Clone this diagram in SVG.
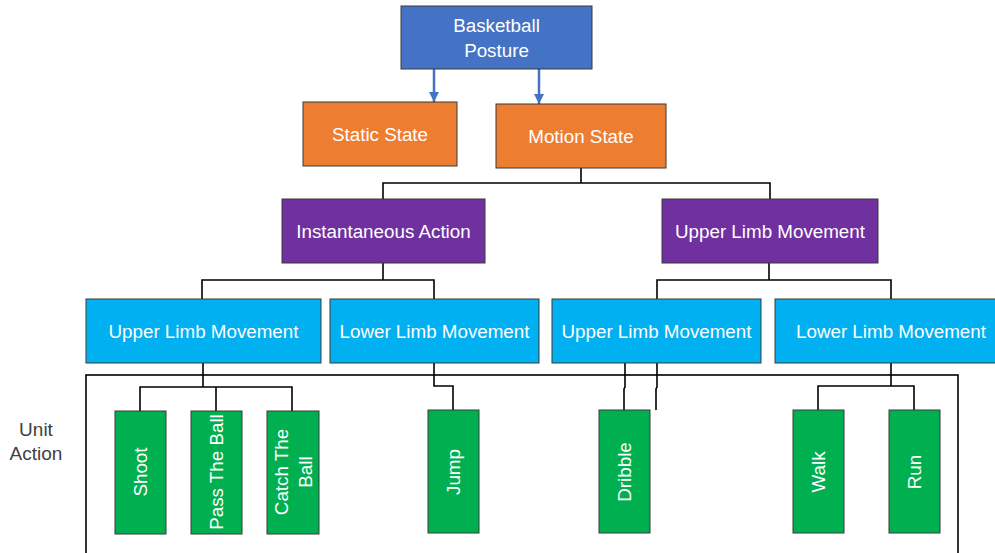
<svg xmlns="http://www.w3.org/2000/svg" width="995" height="553" viewBox="0 0 995 553">
<style>
  .box { stroke: #3a3a3a; stroke-width: 1; }
  .blue { fill: #4472C4; }
  .orange { fill: #ED7D31; }
  .purple { fill: #7030A0; }
  .cyan { fill: #00B0F0; }
  .green { fill: #00B050; }
  .lbl { fill: #ffffff; font-family: "Liberation Sans", Arial, sans-serif; font-size: 18.8px; text-anchor: middle; dominant-baseline: central; }
  .conn { fill: none; stroke: #000000; stroke-width: 1.6; }
  .arrow { fill: none; stroke: #4472C4; stroke-width: 2.5; }
  .side { fill: #404040; font-family: "Liberation Sans", Arial, sans-serif; font-size: 19px; text-anchor: middle; }
</style>
<defs>
  <marker id="ah" viewBox="0 0 10 10" refX="10" refY="5" markerWidth="4" markerHeight="4" orient="auto" markerUnits="strokeWidth">
    <path d="M0,0 L10,5 L0,10 z" fill="#4472C4"/>
  </marker>
</defs>
<rect width="995" height="553" fill="#ffffff"/>

<g id="connectors">
  <path class="arrow" d="M434,69 V102" marker-end="url(#ah)"/>
  <path class="arrow" d="M539,69 V104" marker-end="url(#ah)"/>
  <path class="conn" d="M581,168 V183 M383,199 V183 H770 V199"/>
  <path class="conn" d="M383,263 V280 M202,299 V280 H434 V299"/>
  <path class="conn" d="M769,263 V280 M657,299 V280 H891 V299"/>
  <path class="conn" d="M203,363 V387 M140,411 V387 H292 V411 M216,387 V411"/>
  <path class="conn" d="M434,363 V386 H453 V410"/>
  <path class="conn" d="M625,363 V387 L624,389 V410"/>
  <path class="conn" d="M657,363 V387 L656,389 V410"/>
  <path class="conn" d="M891,363 V386 M818,410 V386 H914 V410"/>
</g>

<g id="unit-frame">
  <rect x="86" y="375" width="872" height="190" fill="none" stroke="#000" stroke-width="1.6"/>
</g>
<g id="unit-label">
  <text class="side" x="36" y="436">Unit</text>
  <text class="side" x="36" y="460">Action</text>
</g>

<g id="basketball-posture">
  <rect class="box blue" x="401" y="6" width="191" height="63"/>
  <text class="lbl" x="496.5" y="25">Basketball</text>
  <text class="lbl" x="496.5" y="50">Posture</text>
</g>
<g id="static-state">
  <rect class="box orange" x="303" y="102" width="154" height="64"/>
  <text class="lbl" x="380" y="134">Static State</text>
</g>
<g id="motion-state">
  <rect class="box orange" x="496" y="104" width="170" height="64"/>
  <text class="lbl" x="581" y="136">Motion State</text>
</g>
<g id="instantaneous-action">
  <rect class="box purple" x="282" y="199" width="203" height="64"/>
  <text class="lbl" x="383.5" y="231">Instantaneous Action</text>
</g>
<g id="upper-limb-top">
  <rect class="box purple" x="662" y="199" width="216" height="64"/>
  <text class="lbl" x="770" y="231">Upper Limb Movement</text>
</g>
<g id="upper-limb-1">
  <rect class="box cyan" x="86" y="299" width="235" height="64"/>
  <text class="lbl" x="203.5" y="331">Upper Limb Movement</text>
</g>
<g id="lower-limb-1">
  <rect class="box cyan" x="330" y="299" width="209" height="64"/>
  <text class="lbl" x="434.5" y="331">Lower Limb Movement</text>
</g>
<g id="upper-limb-2">
  <rect class="box cyan" x="552" y="299" width="209" height="64"/>
  <text class="lbl" x="656.5" y="331">Upper Limb Movement</text>
</g>
<g id="lower-limb-2">
  <rect class="box cyan" x="775" y="299" width="224" height="64"/>
  <text class="lbl" x="891" y="331">Lower Limb Movement</text>
</g>

<g id="shoot">
  <rect class="box green" x="115" y="411" width="51" height="123"/>
  <text class="lbl" transform="translate(140.5,472) rotate(-90)">Shoot</text>
</g>
<g id="pass-the-ball">
  <rect class="box green" x="191" y="411" width="51" height="123"/>
  <text class="lbl" transform="translate(216.5,472) rotate(-90)">Pass The Ball</text>
</g>
<g id="catch-the-ball">
  <rect class="box green" x="267" y="411" width="52" height="123"/>
  <text class="lbl" transform="translate(281,472) rotate(-90)">Catch The</text>
  <text class="lbl" transform="translate(305,472) rotate(-90)">Ball</text>
</g>
<g id="jump">
  <rect class="box green" x="428" y="410" width="51" height="123"/>
  <text class="lbl" transform="translate(453.5,472) rotate(-90)">Jump</text>
</g>
<g id="dribble">
  <rect class="box green" x="599" y="410" width="51" height="123"/>
  <text class="lbl" transform="translate(624.5,472) rotate(-90)">Dribble</text>
</g>
<g id="walk">
  <rect class="box green" x="793" y="410" width="51" height="123"/>
  <text class="lbl" transform="translate(818.5,472) rotate(-90)">Walk</text>
</g>
<g id="run">
  <rect class="box green" x="889" y="410" width="51" height="123"/>
  <text class="lbl" transform="translate(914.5,472) rotate(-90)">Run</text>
</g>
</svg>
